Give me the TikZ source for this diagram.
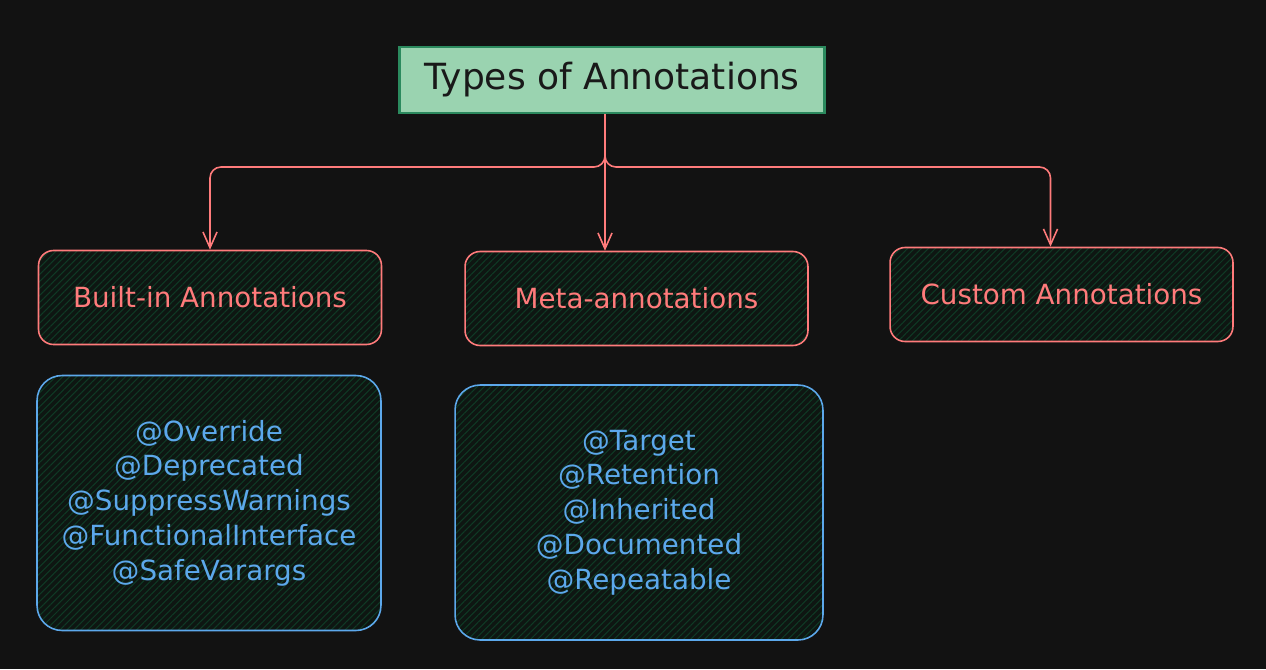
\documentclass[tikz,border=0pt]{standalone}
\usepackage{fontspec}
\setmainfont{DejaVu Sans}
\usepackage{tikz}
\usetikzlibrary{arrows.meta,patterns.meta}

\definecolor{bgdark}{HTML}{121212}
\definecolor{titlefill}{HTML}{9AD3B0}
\definecolor{titleline}{HTML}{2B8A5E}
\definecolor{inkred}{HTML}{FF7B7B}
\definecolor{inkblue}{HTML}{5CA8EB}
\definecolor{hatch}{HTML}{0F3A25}
\definecolor{boxbg}{HTML}{0E1612}

\begin{document}
\begin{tikzpicture}[x=0.02cm, y=-0.02cm,
    titlebox/.style={draw=titleline, line width=1.6pt, fill=titlefill,
        minimum width=8.5cm, minimum height=1.32cm, text=black!90,
        font=\fontsize{20.5}{24}\selectfont},
    hatched/.style={preaction={fill=boxbg},
        pattern={Lines[angle=45, distance=2.8pt, line width=0.6pt]}, pattern color=hatch},
    typebox/.style={hatched, draw=inkred, line width=0.9pt, rounded corners=0.3cm,
        minimum width=6.86cm, minimum height=1.88cm, text=inkred,
        font=\fontsize{15.8}{19}\selectfont},
    listbox/.style={hatched, draw=inkblue, line width=0.9pt, rounded corners=0.5cm,
        minimum height=5.1cm, text=inkblue, align=center,
        font=\fontsize{15.8}{19.8}\selectfont},
    conn/.style={draw=inkred, line width=0.9pt, rounded corners=0.22cm,
        -{Straight Barb[length=9pt, width=8pt]}}]

        % Background
        \fill[bgdark] (0,0) rectangle (1266,669);
        \useasboundingbox (0,0) rectangle (1266,669);

        % Title
        \node[titlebox] (title) at (612,80) {Types of Annotations};

        % Kinds of annotations
        \node[typebox] (builtin) at (210,297.5) {Built-in Annotations};
        \node[typebox] (meta) at (636.5,298.5) {Meta-annotations};
        \node[typebox] (custom) at (1061.5,294.5) {Custom Annotations};

        % Lists
        \node[listbox, minimum width=6.88cm] (builtinlist) at (209,503)
            {@Override\\@Deprecated\\@SuppressWarnings\\@FunctionalInterface\\@SafeVarargs};
        \node[listbox, minimum width=7.36cm] (metalist) at (639,512.5)
            {@Target\\@Retention\\@Inherited\\@Documented\\@Repeatable};

        % Connectors
        \coordinate (split) at (605,167);
        \draw[conn] (split |- title.south) -- (split) -| (builtin.north);
        \draw[conn] (split |- title.south) -- (split |- meta.north);
        \draw[conn] (split |- title.south) -- (split) -| ([xshift=-0.22cm]custom.north);
    \end{tikzpicture}
\end{document}
